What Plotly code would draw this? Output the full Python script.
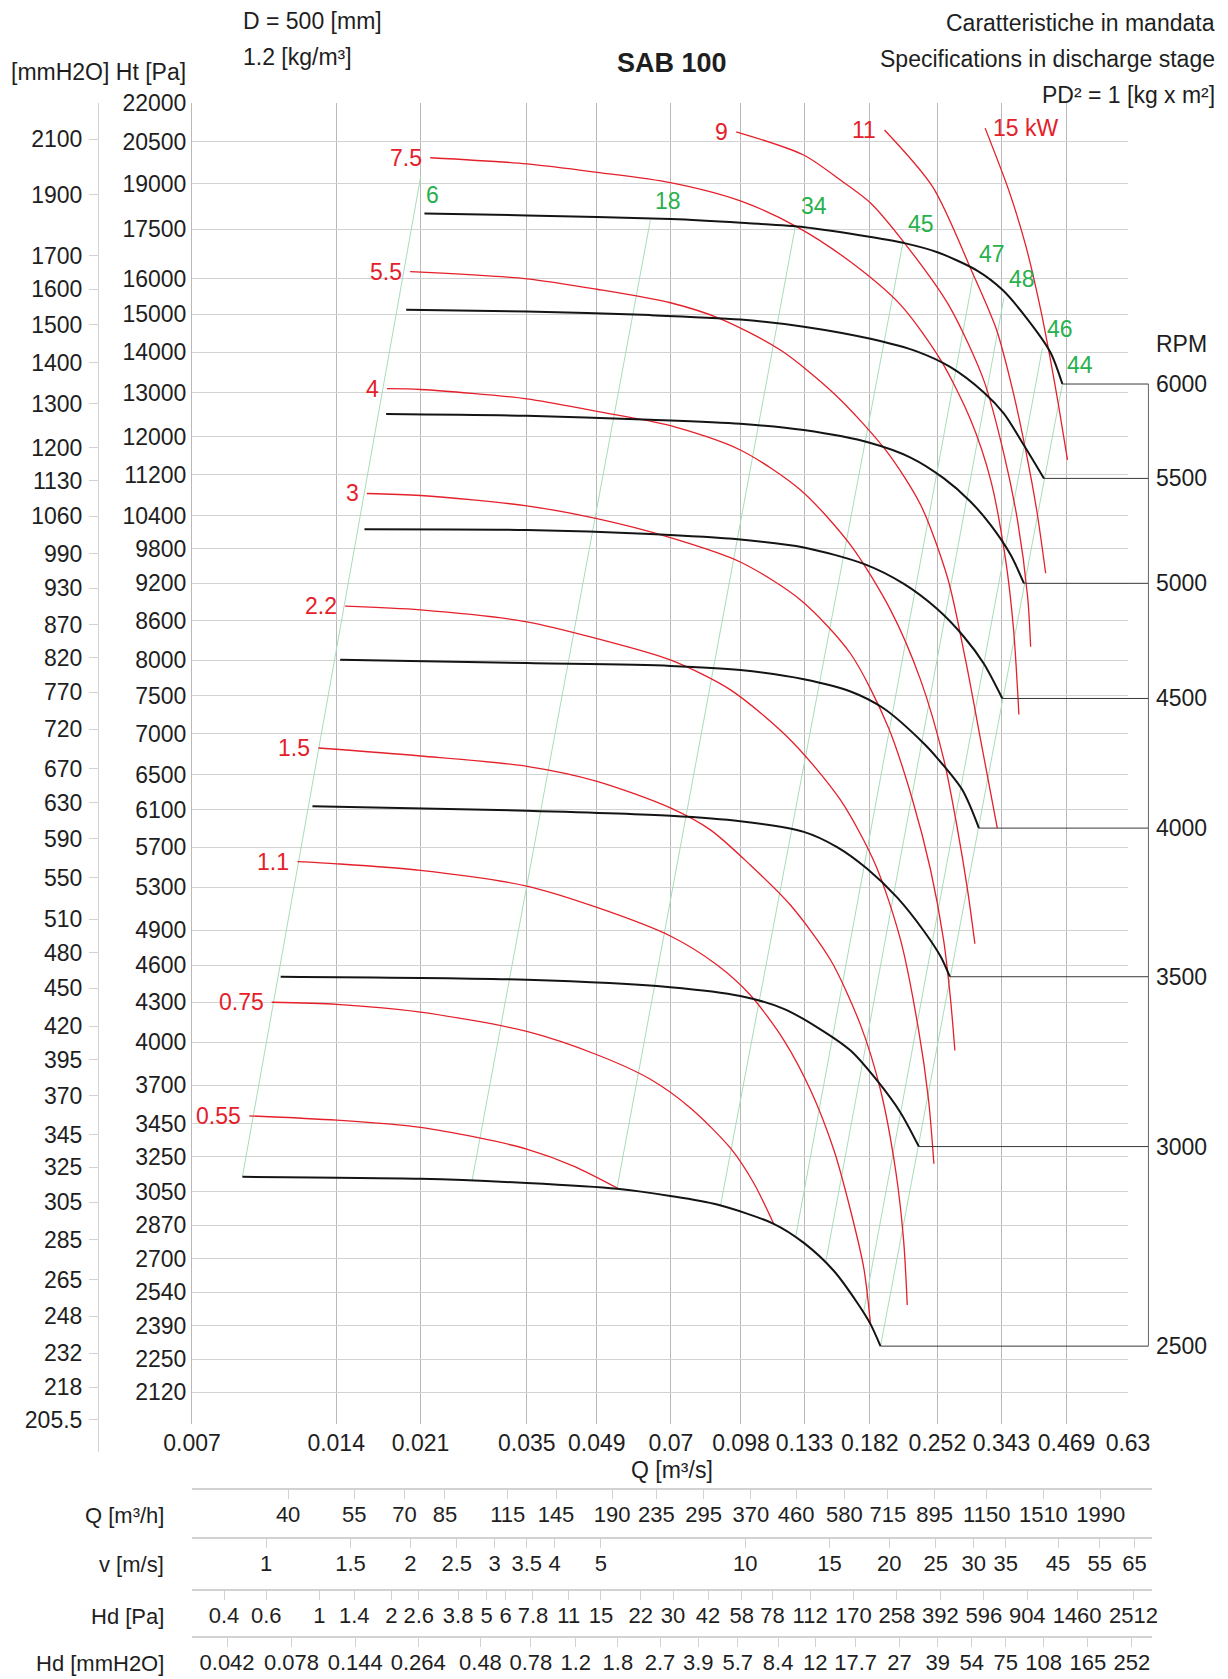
import numpy as np
import plotly.graph_objects as go

W, H = 1228, 1679
FONT = "Liberation Sans, Arial, Helvetica, sans-serif"
TXT = "#1e1e1e"
GRID_V = "#b9b9b9"
GRID_H = "#d2d2d2"
RED = "#e4202a"
GREEN_LINE = "#a9dcb9"
GREEN_TXT = "#27b04c"
BLACK = "#141414"
FS = 23

# ---------------- axis tick values ----------------
q_ticks = [0.007, 0.014, 0.021, 0.035, 0.049, 0.07, 0.098, 0.133, 0.182, 0.252, 0.343, 0.469, 0.63]
pa_ticks = [22000, 20500, 19000, 17500, 16000, 15000, 14000, 13000, 12000, 11200, 10400, 9800, 9200,
            8600, 8000, 7500, 7000, 6500, 6100, 5700, 5300, 4900, 4600, 4300, 4000, 3700, 3450, 3250,
            3050, 2870, 2700, 2540, 2390, 2250, 2120]
mm_ticks = [2100, 1900, 1700, 1600, 1500, 1400, 1300, 1200, 1130, 1060, 990, 930, 870, 820, 770, 720,
            670, 630, 590, 550, 510, 480, 450, 420, 395, 370, 345, 325, 305, 285, 265, 248, 232, 218, 205.5]
qh_ticks = [40, 55, 70, 85, 115, 145, 190, 235, 295, 370, 460, 580, 715, 895, 1150, 1510, 1990]
v_ticks = [1, 1.5, 2, 2.5, 3, 3.5, 4, 5, 10, 15, 20, 25, 30, 35, 45, 55, 65]
hdpa_ticks = [0.4, 0.6, 1, 1.4, 2, 2.6, 3.8, 5, 6, 7.8, 11, 15, 22, 30, 42, 58, 78, 112, 170, 258, 392,
              596, 904, 1460, 2512]
hdmm_ticks = [0.042, 0.078, 0.144, 0.264, 0.48, 0.78, 1.2, 1.8, 2.7, 3.9, 5.7, 8.4, 12, 17.7, 27, 39, 54,
              75, 108, 165, 252]

# unit conversions
M3H_PER_M3S = 3600.0
OUTLET_AREA = 0.01      # m2
RHO = 1.2               # kg/m3
PA_PER_MMH2O = 9.80665

# ---------------- fan curves (Q m3/s, Ht Pa) ----------------
rpm_list = [6000, 5500, 5000, 4500, 4000, 3500, 3000, 2500]
q_6000 = [0.0214, 0.035, 0.070, 0.098, 0.133, 0.183, 0.215, 0.252, 0.305, 0.344, 0.388, 0.434, 0.4596]
p_6000 = [18000, 17940, 17820, 17700, 17560, 17250, 17060, 16780, 16230, 15680, 14870, 13990, 13210]
q_5500 = [0.0196, 0.035, 0.0634, 0.0977, 0.1326, 0.1827, 0.2288, 0.2684, 0.3151, 0.347, 0.382, 0.4206]
p_5500 = [15120, 15070, 14970, 14850, 14660, 14340, 14010, 13620, 13010, 12520, 11820, 11130]
q_5000 = [0.0178, 0.035, 0.0634, 0.0977, 0.1326, 0.1827, 0.2215, 0.26, 0.2956, 0.3254, 0.3583, 0.382]
p_5000 = [12510, 12470, 12380, 12290, 12150, 11870, 11560, 11130, 10670, 10230, 9690, 9200]
q_4500 = [0.01604, 0.035, 0.0634, 0.0977, 0.1326, 0.1769, 0.2145, 0.2518, 0.2862, 0.3151, 0.3443]
p_4500 = [10150, 10135, 10060, 9960, 9820, 9530, 9190, 8780, 8350, 7950, 7465]
q_4000 = [0.01427, 0.035, 0.0698, 0.0977, 0.1326, 0.166, 0.1948, 0.2361, 0.2518, 0.284, 0.3077]
p_4000 = [8010, 7960, 7920, 7860, 7730, 7560, 7330, 6880, 6700, 6325, 5900]
q_3500 = [0.01249, 0.035, 0.0698, 0.0977, 0.1326, 0.1556, 0.1798, 0.2078, 0.2361, 0.2558, 0.2675]
p_3500 = [6140, 6090, 6035, 5975, 5860, 5700, 5480, 5200, 4895, 4675, 4505]
q_3000 = [0.01072, 0.035, 0.0698, 0.0977, 0.1204, 0.1414, 0.166, 0.1887, 0.2111, 0.2305]
p_3000 = [4505, 4480, 4420, 4350, 4250, 4110, 3940, 3730, 3520, 3310]
q_2500 = [0.00892, 0.021, 0.035, 0.054, 0.0698, 0.0874, 0.1147, 0.1326, 0.1531, 0.1714, 0.1827, 0.1917]
p_2500 = [3133, 3122, 3098, 3066, 3026, 2979, 2877, 2779, 2642, 2493, 2398, 2304]
fan_q = [q_6000, q_5500, q_5000, q_4500, q_4000, q_3500, q_3000, q_2500]
fan_p = [p_6000, p_5500, p_5000, p_4500, p_4000, p_3500, p_3000, p_2500]
rpm_bracket_q = 0.695

# ---------------- power curves (kW) ----------------
kw_labels = ["0.55", "0.75", "1.1", "1.5", "2.2", "3", "4", "5.5", "7.5", "9", "11", "15 kW"]
q_kw055 = [0.00922, 0.01405, 0.021, 0.02754, 0.035, 0.04383, 0.05444]
p_kw055 = [3500, 3472, 3427, 3365, 3295, 3195, 3066]
q_kw075 = [0.01027, 0.01405, 0.021, 0.035, 0.04905, 0.0634, 0.07686, 0.0932, 0.1042, 0.1147]
p_kw075 = [4301, 4285, 4225, 4079, 3910, 3740, 3550, 3300, 3098, 2877]
q_kw11 = [0.01162, 0.01405, 0.021, 0.035, 0.04905, 0.0698, 0.0874, 0.1025, 0.1204, 0.1369, 0.1532, 0.1659, 0.1769, 0.1827]
p_kw11 = [5551, 5530, 5465, 5311, 5109, 4851, 4602, 4358, 4016, 3668, 3289, 2950, 2655, 2398]
q_kw15 = [0.01285, 0.021, 0.035, 0.04905, 0.0698, 0.0846, 0.1025, 0.1243, 0.1508, 0.1741, 0.1917, 0.2061, 0.2142, 0.218]
p_kw15 = [6823, 6725, 6600, 6423, 6120, 5881, 5518, 5131, 4644, 4128, 3668, 3172, 2793, 2483]
q_kw22 = [0.01462, 0.021, 0.035, 0.04905, 0.0698, 0.0932, 0.1243, 0.1581, 0.1872, 0.2111, 0.2302, 0.2415, 0.2478]
p_kw22 = [8826, 8766, 8580, 8322, 8006, 7583, 6924, 6209, 5518, 4816, 4090, 3602, 3208]
q_kw3 = [0.01622, 0.021, 0.035, 0.04905, 0.0698, 0.0977, 0.1305, 0.1659, 0.1992, 0.2236, 0.2439, 0.2596, 0.2685, 0.2741]
p_kw3 = [10830, 10790, 10590, 10345, 9996, 9564, 8927, 8100, 7080, 6209, 5468, 4816, 4319, 3940]
q_kw4 = [0.01787, 0.021, 0.035, 0.04905, 0.0698, 0.0977, 0.1305, 0.1659, 0.2011, 0.2324, 0.26, 0.2777, 0.2913, 0.3018]
p_kw4 = [13100, 13080, 12860, 12570, 12250, 11720, 10900, 9864, 8767, 7721, 6677, 5881, 5274, 4783]
q_kw55 = [0.01998, 0.035, 0.04905, 0.0698, 0.0888, 0.1185, 0.1544, 0.1964, 0.2324, 0.2647, 0.2885, 0.3102, 0.3361]
p_kw55 = [16200, 15990, 15690, 15310, 14870, 14050, 12950, 11720, 10610, 9290, 8006, 6924, 5900]
q_kw75 = [0.022, 0.035, 0.04905, 0.0698, 0.0977, 0.128, 0.1659, 0.2111, 0.2559, 0.2956, 0.3255, 0.3498, 0.3635, 0.3729]
p_kw75 = [19920, 19700, 19400, 19040, 18420, 17580, 16490, 15250, 13800, 12380, 11100, 9600, 8455, 7250]
q_kw9 = [0.0958, 0.1324, 0.1581, 0.1827, 0.2152, 0.2659, 0.3147, 0.3465, 0.3706, 0.3889, 0.3945]
p_kw9 = [20880, 20020, 19130, 18350, 17060, 15250, 13310, 11660, 10300, 8975, 8200]
q_kw11b = [0.1954, 0.2462, 0.2984, 0.335, 0.3618, 0.3851, 0.4061, 0.4241]
p_kw11b = [20950, 18900, 16160, 14570, 13070, 11720, 10510, 9370]
q_kw15b = [0.317, 0.3549, 0.3851, 0.415, 0.434, 0.451, 0.471]
p_kw15b = [21020, 18790, 17000, 15060, 13800, 12720, 11510]
kw_q = [q_kw055, q_kw075, q_kw11, q_kw15, q_kw22, q_kw3, q_kw4, q_kw55, q_kw75, q_kw9, q_kw11b, q_kw15b]
kw_p = [p_kw055, p_kw075, p_kw11, p_kw15, p_kw22, p_kw3, p_kw4, p_kw55, p_kw75, p_kw9, p_kw11b, p_kw15b]

# ---------------- efficiency lines (%) ----------------
eff_labels = ["6", "18", "34", "45", "47", "48", "46", "44"]
eff_q_low = [0.00892, 0.0269, 0.054, 0.0888, 0.1274, 0.1472, 0.1766, 0.1917]
eff_p_low = [3133, 3110, 3066, 2972, 2806, 2679, 2447, 2304]
eff_q_high = [0.02103, 0.0634, 0.1274, 0.2134, 0.3003, 0.347, 0.4174, 0.4596]
eff_p_high = [19280, 17790, 17620, 17060, 16170, 15450, 14095, 13211]

# ---------------- geometry (pixels) ----------------
PX_L, PX_R = 192, 1128
PY_T = 103
Y_PX_PER_DEC = 1268.6
Q_MIN, Q_MAX = 0.007, 0.63
P_MIN, P_MAX = 2000, 22000
PY_B = PY_T + Y_PX_PER_DEC * np.log10(P_MAX / P_MIN)
EPS = 1e-5


def fx(px):
    return px / W


def fy(py):
    return 1 - py / H


lq0, lq1 = np.log10(Q_MIN), np.log10(Q_MAX)
X_PX_PER_DEC = (PX_R - PX_L) / (lq1 - lq0)


def q_range(px_right):
    return [lq0 - EPS, lq0 + (px_right - PX_L) / X_PX_PER_DEC]


fig = go.Figure()

# efficiency lines
for lab, ql, pl, qh, ph in zip(eff_labels, eff_q_low, eff_p_low, eff_q_high, eff_p_high):
    fig.add_trace(go.Scatter(x=[ql, qh], y=[pl, ph], mode="lines",
                             line=dict(color=GREEN_LINE, width=1), hoverinfo="skip", showlegend=False))
# power lines
for lab, q, p in zip(kw_labels, kw_q, kw_p):
    fig.add_trace(go.Scatter(x=q, y=p, mode="lines",
                             line=dict(color=RED, width=1.3, shape="spline", smoothing=0.8),
                             hoverinfo="skip", showlegend=False))
# fan curves
for rpm, q, p in zip(rpm_list, fan_q, fan_p):
    fig.add_trace(go.Scatter(x=q, y=p, mode="lines",
                             line=dict(color=BLACK, width=2, shape="spline", smoothing=0.8),
                             hoverinfo="skip", showlegend=False))

# rpm leader lines (overlay axes x2/y3 reaching outside the grid)
for rpm, q, p in zip(rpm_list, fan_q, fan_p):
    fig.add_trace(go.Scatter(x=[q[-1], rpm_bracket_q], y=[p[-1], p[-1]], mode="lines",
                             xaxis="x2", yaxis="y3", line=dict(color="#3a3a3a", width=1),
                             hoverinfo="skip", showlegend=False))
fig.add_trace(go.Scatter(x=[rpm_bracket_q, rpm_bracket_q], y=[fan_p[-1][-1], fan_p[0][-1]], mode="lines",
                         xaxis="x2", yaxis="y3", line=dict(color="#666666", width=1),
                         hoverinfo="skip", showlegend=False))

# dummy trace for mmH2O axis
fig.add_trace(go.Scatter(x=[Q_MIN] * len(mm_ticks), y=mm_ticks, mode="markers", xaxis="x2", yaxis="y2",
                         marker=dict(opacity=0), hoverinfo="skip", showlegend=False))

# table axes dummy traces
table_rows = [
    ("x3", qh_ticks, "Q [m³/h]", 1489),
    ("x4", v_ticks, "v [m/s]", 1538),
    ("x5", hdpa_ticks, "Hd [Pa]", 1590),
    ("x6", hdmm_ticks, "Hd [mmH2O]", 1637),
]
for ax, vals, title, py in table_rows:
    fig.add_trace(go.Scatter(x=vals, y=[0.5] * len(vals), mode="markers", xaxis=ax, yaxis="y4",
                             marker=dict(opacity=0), hoverinfo="skip", showlegend=False))


def ticklab(vals):
    return [f"{v:g}" for v in vals]


tickfont = dict(family=FONT, size=FS, color=TXT)
tblfont = dict(family=FONT, size=22, color=TXT)

layout = dict(
    width=W, height=H, margin=dict(l=0, r=0, t=0, b=0, pad=0),
    paper_bgcolor="white", plot_bgcolor="rgba(0,0,0,0)",
    font=dict(family=FONT, size=FS, color=TXT),
    showlegend=False,
    xaxis=dict(type="log", range=[lq0 - EPS, lq1 + EPS], domain=[fx(PX_L), fx(PX_R)], anchor="y",
               tickvals=q_ticks, ticktext=ticklab(q_ticks), showgrid=True, gridcolor=GRID_V, gridwidth=1,
               showline=False, ticks="", tickfont=tickfont, ticklabelstandoff=3, zeroline=False,
               automargin=False, fixedrange=True),
    yaxis=dict(type="log", range=[np.log10(P_MIN), np.log10(P_MAX) + EPS], domain=[fy(PY_B), fy(PY_T)],
               anchor="x", tickvals=pa_ticks, ticktext=[str(v) for v in pa_ticks], showgrid=True,
               gridcolor=GRID_H, gridwidth=1, showline=True, linecolor=GRID_V, linewidth=1, ticks="",
               tickfont=tickfont, ticklabelstandoff=0, zeroline=False, automargin=False, fixedrange=True),
    xaxis2=dict(type="log", range=q_range(1215), domain=[fx(PX_L), fx(1215)], anchor="y3",
                visible=False, showgrid=False, fixedrange=True),
    yaxis3=dict(type="log", range=[np.log10(P_MIN), np.log10(P_MAX) + EPS], domain=[fy(PY_B), fy(PY_T)],
                anchor="x2", visible=False, showgrid=False, fixedrange=True),
    yaxis4=dict(range=[0, 1], domain=[0, 0.02], anchor="x3", visible=False, showgrid=False, fixedrange=True),
)

# mmH2O axis: same scale as Pa, line extends slightly below the grid
P_EXT = 1900
mm_top = np.log10(P_MAX / PA_PER_MMH2O)
mm_bot = np.log10(P_EXT / PA_PER_MMH2O)
py_ext = PY_T + Y_PX_PER_DEC * (np.log10(P_MAX) - np.log10(P_EXT))
layout["yaxis2"] = dict(type="log", range=[mm_bot, mm_top + EPS], domain=[fy(py_ext), fy(PY_T)],
                        anchor="free", position=fx(98), side="left", tickvals=mm_ticks,
                        ticktext=ticklab(mm_ticks), showgrid=False, showline=True, linecolor=GRID_H,
                        linewidth=1, ticks="outside", ticklen=9, tickcolor=GRID_H, tickwidth=1,
                        tickfont=tickfont, ticklabelstandoff=2, zeroline=False, automargin=False,
                        fixedrange=True)

# table axes
TBL_R = 1152
lqr = q_range(TBL_R)
conv = {
    "x3": [v + np.log10(M3H_PER_M3S) for v in lqr],
    "x4": [v - np.log10(OUTLET_AREA) for v in lqr],
    "x5": [np.log10(0.5 * RHO) + 2 * (v - np.log10(OUTLET_AREA)) for v in lqr],
    "x6": [np.log10(0.5 * RHO / PA_PER_MMH2O) + 2 * (v - np.log10(OUTLET_AREA)) for v in lqr],
}
for ax, vals, title, py in table_rows:
    key = "xaxis" + ax[1:]
    layout[key] = dict(type="log", range=conv[ax], domain=[fx(PX_L), fx(TBL_R)], anchor="free",
                       position=fy(py), side="bottom", tickvals=vals, ticktext=ticklab(vals),
                       showgrid=False, showline=True, linecolor=GRID_H, linewidth=1.5, ticks="outside",
                       ticklen=9, tickcolor=GRID_H, tickwidth=1, tickfont=tblfont, ticklabelstandoff=-3,
                       zeroline=False, automargin=False, fixedrange=True)

fig.update_layout(**layout)

ann = []


def paper_text(text, x, y, xanchor="left", size=FS, bold=False, family=FONT, color=TXT):
    ann.append(dict(text=("<b>%s</b>" % text) if bold else text, x=fx(x), y=fy(y), xref="paper",
                    yref="paper", xanchor=xanchor, yanchor="middle", showarrow=False,
                    font=dict(family=family, size=size, color=color)))


paper_text("D = 500 [mm]", 241, 21)
paper_text("1.2 [kg/m³]", 241, 57)
paper_text("[mmH2O] Ht [Pa]", 188, 72, xanchor="right")
paper_text("SAB 100", 672, 63, xanchor="center", size=27, bold=True,
           family="Liberation Sans Narrow, Arial Narrow, Liberation Sans, Arial, sans-serif")
paper_text("Caratteristiche in mandata", 1217, 23, xanchor="right")
paper_text("Specifications in discharge stage", 1217, 59, xanchor="right")
paper_text("PD² = 1 [kg x m²]", 1217, 95, xanchor="right")
paper_text("Q [m³/s]", 672, 1470, xanchor="center")
for ax, vals, title, py in table_rows:
    paper_text(title, 166, py + 26, xanchor="right", size=22)

# power labels
for lab, q, p in zip(kw_labels, kw_q, kw_p):
    right = lab.endswith("kW")
    ann.append(dict(text=lab, x=np.log10(q[0]), y=np.log10(p[0]), xref="x", yref="y",
                    xanchor="left" if right else "right", yanchor="middle",
                    xshift=6 if right else -6, showarrow=False,
                    font=dict(family=FONT, size=FS, color=RED)))
# efficiency labels
for lab, qh, ph in zip(eff_labels, eff_q_high, eff_p_high):
    shift = -19 if lab == "6" else 19
    ann.append(dict(text=lab, x=np.log10(qh), y=np.log10(ph), xref="x", yref="y",
                    xanchor="left", yanchor="middle", xshift=3, yshift=shift, showarrow=False,
                    font=dict(family=FONT, size=FS, color=GREEN_TXT)))
# rpm labels
for rpm, p in zip(rpm_list, fan_p):
    ann.append(dict(text=str(rpm), x=np.log10(rpm_bracket_q), y=np.log10(p[-1]), xref="x2", yref="y3",
                    xanchor="left", yanchor="middle", xshift=6, showarrow=False,
                    font=dict(family=FONT, size=FS, color=TXT)))
ann.append(dict(text="RPM", x=np.log10(rpm_bracket_q), y=np.log10(fan_p[0][-1]), xref="x2", yref="y3",
                xanchor="left", yanchor="middle", xshift=6, yshift=40, showarrow=False,
                font=dict(family=FONT, size=FS, color=TXT)))

fig.update_layout(annotations=ann)

fig.write_html("out.html", config={"displayModeBar": False},
               post_script="document.body.style.margin='0px';")
